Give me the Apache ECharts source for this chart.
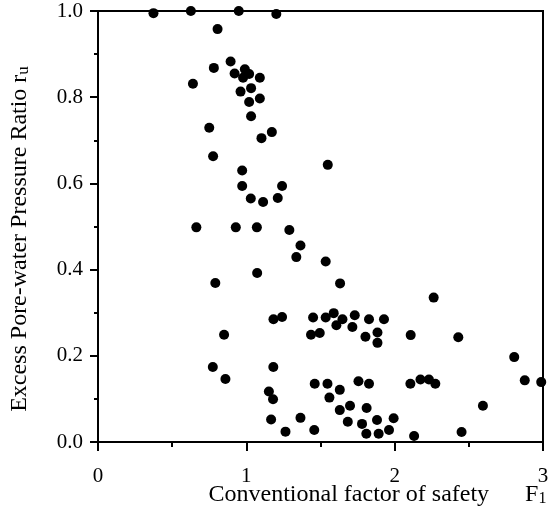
<!DOCTYPE html>
<html>
<head>
<meta charset="utf-8">
<script src="https://cdn.jsdelivr.net/npm/echarts@6/dist/echarts.min.js"></script>
<style>
  html, body { margin: 0; padding: 0; background: #fff; }
  #chart { width: 555px; height: 508px; }
</style>
</head>
<body>
<div id="chart"></div>
<script>
// conventional factor of safety F1 (x) and excess pore-water pressure ratio ru (y)
var factorOfSafety = [
  0.374, 0.626, 0.949, 1.202, 0.806, 0.894, 0.781, 0.921, 0.990, 0.978,
  1.019, 1.091, 0.640, 0.961, 1.032, 1.019, 1.091, 1.032, 0.750, 1.102,
  1.172, 0.776, 1.549, 0.972, 0.972, 1.241, 1.030, 1.113, 1.212, 0.663,
  0.929, 1.071, 1.290, 1.365, 1.337, 1.535, 1.073, 1.632, 0.791, 2.263,
  1.183, 1.241, 1.450, 1.535, 1.589, 1.648, 1.731, 1.827, 1.928, 1.607,
  1.715, 1.884, 1.495, 1.436, 0.850, 1.803, 1.884, 2.108, 2.429, 2.806,
  0.774, 1.182, 0.859, 1.152, 1.180, 1.461, 1.547, 1.630, 1.756, 1.827,
  1.560, 1.699, 1.630, 1.811, 1.365, 1.167, 1.458, 1.264, 1.684, 1.780,
  1.881, 1.993, 1.809, 1.892, 1.962, 2.131, 2.106, 2.174, 2.231, 2.274,
  2.877, 2.988, 2.595, 2.451
];
var poreRatio = [
  0.995, 1.000, 1.000, 0.993, 0.958, 0.883, 0.868, 0.855, 0.865, 0.845,
  0.854, 0.845, 0.831, 0.813, 0.821, 0.789, 0.797, 0.756, 0.729, 0.705,
  0.719, 0.663, 0.643, 0.630, 0.594, 0.594, 0.565, 0.557, 0.566, 0.498,
  0.498, 0.498, 0.492, 0.456, 0.429, 0.419, 0.392, 0.368, 0.369, 0.335,
  0.285, 0.290, 0.289, 0.289, 0.299, 0.285, 0.294, 0.285, 0.285, 0.271,
  0.267, 0.254, 0.253, 0.249, 0.249, 0.244, 0.230, 0.248, 0.243, 0.197,
  0.174, 0.174, 0.146, 0.117, 0.099, 0.135, 0.135, 0.121, 0.141, 0.135,
  0.103, 0.084, 0.074, 0.079, 0.056, 0.052, 0.028, 0.024, 0.047, 0.042,
  0.051, 0.055, 0.019, 0.019, 0.028, 0.014, 0.135, 0.145, 0.145, 0.135,
  0.143, 0.139, 0.084, 0.023
];
var xTickLabels = ['0', '1', '2', '3'];

var points = factorOfSafety.map(function (f, i) { return [f, poreRatio[i]]; });

var serif = '"Liberation Serif", "DejaVu Serif", serif';

var chart = echarts.init(document.getElementById('chart'), null, { renderer: 'canvas' });
chart.setOption({
  backgroundColor: '#fff',
  animation: false,
  grid: {
    left: 98, right: 12, top: 11, bottom: 66,
    outerBoundsMode: 'none',
    show: true, borderColor: '#000', borderWidth: 2, backgroundColor: 'transparent'
  },
  xAxis: {
    type: 'value', min: 0, max: 3, interval: 1,
    axisLine: { show: true, onZero: false, lineStyle: { color: '#000', width: 2 } },
    axisTick: { show: true, inside: false, length: 9, lineStyle: { color: '#000', width: 2 } },
    minorTick: { show: true, splitNumber: 2, length: 5, lineStyle: { color: '#000', width: 2 } },
    splitLine: { show: false },
    axisLabel: {
      margin: 24, color: '#000', fontFamily: serif, fontSize: 21,
      formatter: function (v) { return xTickLabels[Math.round(v)]; }
    },
    name: '{a|Conventional factor of safety      F}{s|1}',
    nameLocation: 'middle',
    nameGap: 40,
    nameMoveOverlap: false,
    nameTextStyle: {
      color: '#000', fontFamily: serif, fontSize: 24,
      padding: [0, 0, 0, 114],
      rich: {
        a: { color: '#000', fontFamily: serif, fontSize: 24 },
        s: { color: '#000', fontFamily: serif, fontSize: 16, padding: [9, 0, 0, 0] }
      }
    }
  },
  yAxis: {
    type: 'value', min: 0, max: 1, interval: 0.2,
    axisLine: { show: true, onZero: false, lineStyle: { color: '#000', width: 2 } },
    axisTick: { show: true, inside: false, length: 8, lineStyle: { color: '#000', width: 2 } },
    minorTick: { show: true, splitNumber: 2, length: 4, lineStyle: { color: '#000', width: 2 } },
    splitLine: { show: false },
    axisLabel: {
      margin: 15, color: '#000', fontFamily: serif, fontSize: 21,
      formatter: function (v) { return v.toFixed(1); }
    },
    name: '{a|Excess Pore-water Pressure Ratio r}{s|u}',
    nameLocation: 'middle',
    nameGap: 66,
    nameMoveOverlap: false,
    nameTextStyle: {
      color: '#000', fontFamily: serif, fontSize: 24,
      padding: [0, 25, 0, 0],
      rich: {
        a: { color: '#000', fontFamily: serif, fontSize: 24 },
        s: { color: '#000', fontFamily: serif, fontSize: 17, padding: [7, 0, 0, 0] }
      }
    }
  },
  series: [{
    type: 'scatter',
    data: points,
    symbol: 'circle',
    symbolSize: 10,
    itemStyle: { color: '#000', opacity: 1 },
    clip: false
  }]
});
</script>
</body>
</html>
